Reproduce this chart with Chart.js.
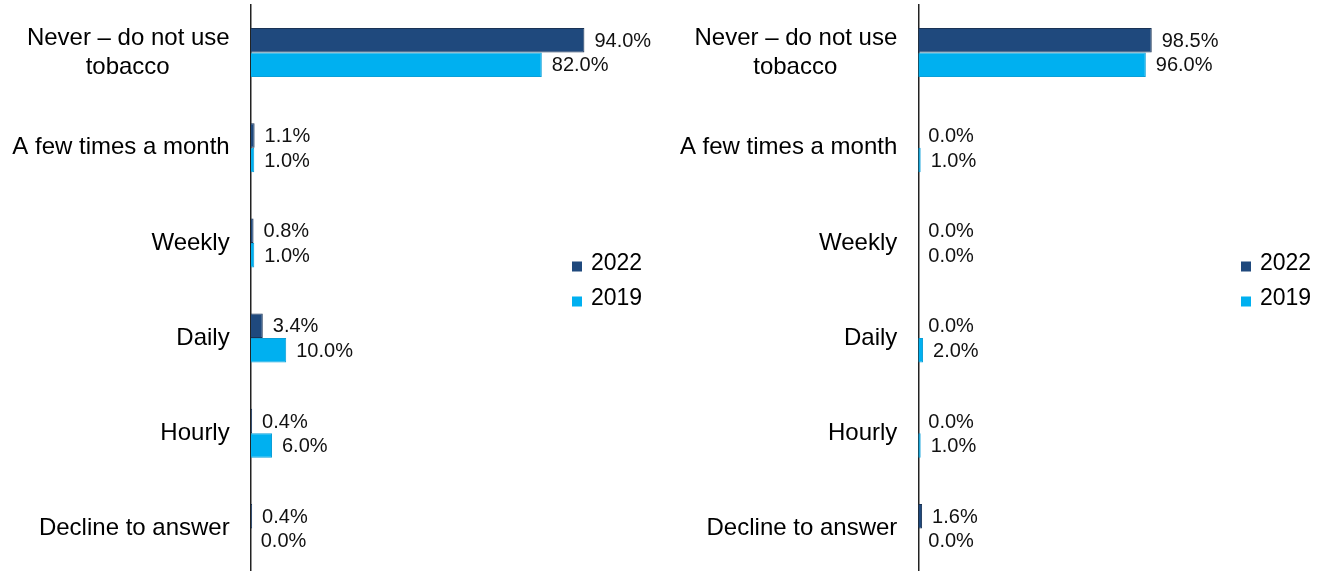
<!DOCTYPE html>
<html>
<head>
<meta charset="utf-8">
<script src="https://cdn.jsdelivr.net/npm/chart.js@4"></script>
<style>
  html, body { margin: 0; padding: 0; background: #fff; overflow: hidden; }
  #wrap { position: relative; width: 1325px; height: 571px; overflow: hidden; }
  canvas { position: absolute; top: 0; }
</style>
</head>
<body>
<div id="wrap">
  <canvas id="left" width="662" height="576" style="left:0"></canvas>
  <canvas id="right" width="663" height="576" style="left:662px"></canvas>
</div>
<script>
const categories = [
  ['Never \u2013 do not use', 'tobacco' + ' '.repeat(9)],
  'A few times a month',
  'Weekly',
  'Daily',
  'Hourly',
  'Decline to answer'
];
const seriesNames = ['2022', '2019'];
const leftData2022 = [94.0, 1.1, 0.8, 3.4, 0.4, 0.4];
const leftData2019 = [82.0, 1.0, 1.0, 10.0, 6.0, 0.0];
const rightData2022 = [98.5, 0.0, 0.0, 0.0, 0.0, 1.6];
const rightData2019 = [96.0, 1.0, 0.0, 2.0, 1.0, 0.0];

const FONT = "'Liberation Sans', Arial, sans-serif";
const DARK = '#1F497D';
const LIGHT = '#00B0F0';

Chart.defaults.font.family = FONT;
Chart.defaults.color = '#000';

// value labels at the end of every bar
const barLabels = {
  id: 'barLabels',
  afterDatasetsDraw(chart) {
    const ctx = chart.ctx;
    ctx.save();
    ctx.font = '20px ' + FONT;
    ctx.fillStyle = '#111';
    ctx.textAlign = 'left';
    ctx.textBaseline = 'middle';
    chart.data.datasets.forEach((ds, i) => {
      chart.getDatasetMeta(i).data.forEach((bar, j) => {
        ctx.fillText(ds.data[j].toFixed(1) + '%', bar.x + 10, bar.y + 1);
      });
    });
    ctx.restore();
  }
};

// small square legend drawn to the right of the bars
const sideLegend = {
  id: 'sideLegend',
  afterDraw(chart, args, opts) {
    const ctx = chart.ctx;
    ctx.save();
    ctx.font = '23px ' + FONT;
    ctx.textBaseline = 'middle';
    ctx.textAlign = 'left';
    chart.data.datasets.forEach((ds, i) => {
      const y = opts.y + i * opts.gap;
      ctx.fillStyle = ds.backgroundColor;
      ctx.fillRect(opts.x, y - 2.5, 10, 10);
      ctx.fillStyle = '#000';
      ctx.fillText(ds.label, opts.x + 19, y);
    });
    ctx.restore();
  }
};

function makeChart(id, d2022, d2019, axisWidth, padRight, legendX, legendY) {
  return new Chart(document.getElementById(id), {
    type: 'bar',
    data: {
      labels: categories,
      datasets: [
        {
          label: seriesNames[0],
          data: d2022,
          backgroundColor: DARK,
          borderColor: '#1a3355',
          borderWidth: 1
        },
        {
          label: seriesNames[1],
          data: d2019,
          backgroundColor: LIGHT,
          borderColor: '#0b9fd8',
          borderWidth: 1
        }
      ]
    },
    options: {
      indexAxis: 'y',
      responsive: false,
      animation: false,
      layout: { padding: { top: 5, right: padRight, bottom: 0, left: 0 } },
      datasets: {
        bar: { categoryPercentage: 0.515, barPercentage: 1 }
      },
      plugins: {
        legend: { display: false },
        tooltip: { enabled: false },
        sideLegend: { x: legendX, y: legendY, gap: 35 }
      },
      scales: {
        x: { display: false, min: 0, max: 100 },
        y: {
          grid: { display: false, drawTicks: false },
          border: { display: true, color: '#222', width: 1.5 },
          ticks: {
            padding: 21,
            color: '#000',
            font: { size: 24 }
          },
          afterFit: (scale) => {
            scale.width = axisWidth;
            scale.paddingTop = 0;
            scale.paddingBottom = 0;
          }
        }
      }
    },
    plugins: [barLabels, sideLegend]
  });
}

makeChart('left', leftData2022, leftData2019, 250.7, 56.3, 572, 264);
makeChart('right', rightData2022, rightData2019, 256.3, 169.7, 579, 264);
</script>
</body>
</html>
